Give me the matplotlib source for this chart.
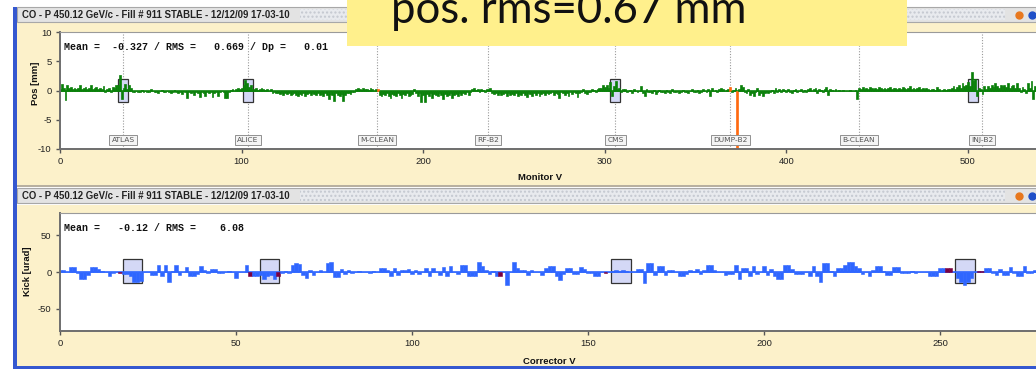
import numpy as np
import matplotlib
matplotlib.use("Agg")
import matplotlib.pyplot as plt
from matplotlib.patches import Rectangle

plt.rcParams["axes.unicode_minus"] = False

W, H = 1036, 370

# vertical closed orbit per monitor [mm]
pos_mm = [
    0.3, 1.1, 0.5, -1.6, 0.9, 0.4, 0.6, 0.3, 0.5, 0.2,
    0.4, 1.0, 0.3, 0.5, 0.6, 0.2, 0.4, 0.9, 0.3, 0.5,
    0.6, 0.2, 0.4, 0.3, 0.7, -0.2, 0.3, 0.5, -0.3, 0.6,
    0.4, 0.9, 1.0, 2.7, -1.5, 0.5, 1.1, 0.3, 0.9, 0.4,
    -0.2, -0.3, -0.1, -0.2, -0.3, 0.1, -0.2, -0.1, -0.3, -0.2,
    0.2, -0.1, -0.3, -0.2, -0.4, -0.1, 0.1, -0.3, -0.2, -0.1,
    -0.3, -0.5, -0.2, 0.1, -0.3, -0.4, -0.2, -0.6, -0.1, -0.3,
    -1.2, -0.3, -0.4, -0.2, -0.8, -0.3, -0.5, -1.1, -0.2, -0.4,
    -1.0, -0.3, -0.5, -0.2, -1.1, -0.4, -0.3, -0.9, -0.2, -0.1,
    -0.3, -1.3, -1.2, -0.2, 0.1, 0.2, -0.1, 0.3, 0.5, 0.2,
    0.4, 0.9, 1.8, 1.2, 0.6, 1.0, 0.3, 0.2, 0.4, 0.1,
    0.3, 0.5, 0.2, 0.1, 0.3, -0.1, 0.2, -0.4, -0.3, -0.5,
    -0.4, -0.6, -0.5, -0.7, -0.4, -0.6, -0.5, -0.8, -0.6, -0.5,
    -0.7, -1.0, -0.6, -0.8, -0.5, -0.9, -0.6, -0.4, -0.8, -0.5,
    -0.6, -0.7, -0.4, -0.8, -0.6, -1.0, -0.5, -0.7, -1.5, -0.6,
    -0.8, -1.8, -0.5, -0.7, -0.9, -0.6, -1.8, -0.7, -0.5, -0.4,
    -0.6, -0.3, -0.2, 0.2, 0.4, 0.3, 0.1, 0.5, 0.2, 0.3,
    0.1, 0.4, 0.2, 0.0, 0.3, 0.2, -0.7, -1.0, -0.6, -0.8,
    -0.5, -0.9, -1.2, -0.6, -0.8, -1.0, -0.5, -0.7, -1.3, -0.6,
    -0.8, -0.5, -1.0, -0.7, -0.6, 0.3, -0.4, -0.9, -0.5, -2.0,
    -0.7, -2.0, -0.6, -0.9, -0.5, -1.3, -0.6, -0.8, -1.0, -0.5,
    -0.7, -1.5, -0.6, -0.9, -0.8, -0.5, -1.2, -0.7, -0.6, -0.9,
    -0.5, -0.8, -0.4, -0.6, -0.3, -0.7, -0.2, 0.2, 0.4, 0.1,
    0.3, -0.2, 0.2, 0.1, -0.3, 0.3, 0.2, 0.4, -0.5, -0.6,
    -0.4, -0.7, -0.5, -0.8, -0.6, -0.4, -0.9, -0.5, -0.7, -0.6,
    -0.8, -0.5, -1.0, -0.6, -0.7, -0.4, -0.8, -1.1, -0.5, -0.6,
    -0.9, -0.5, -0.7, -0.4, -1.0, -0.6, -0.5, -0.8, -0.4, -0.6,
    -0.5, -0.3, -0.8, -0.4, -0.6, -1.2, -0.3, -0.5, -0.7, -0.4,
    -0.9, -0.3, -0.6, -0.2, -0.5, -1.1, -0.4, -0.3, 0.2, -0.4,
    -0.6, -0.2, -0.3, 0.2, 0.1, -0.3, 0.3, 0.5, 0.4, 0.9,
    0.6, 1.0, 0.4, 1.5, -1.0, 0.8, 1.6, 0.3, 0.5, -0.2,
    0.3, 0.2, -0.3, -0.1, 0.1, -0.4, 0.2, 0.0, -0.3, -0.1,
    0.8, -0.5, -0.9, 0.2, -0.3, -0.2, -0.4, 0.1, -0.6, -0.2,
    0.1, -0.3, -0.2, -0.5, 0.1, -0.3, -0.4, 0.2, -0.2, -0.3,
    -0.1, -0.4, -0.2, 0.1, -0.3, -0.2, -0.5, -0.1, 0.2, -0.3,
    -0.2, 0.1, -0.4, -0.3, 0.2, -0.1, -0.2, 0.3, -0.9, 0.4,
    0.0, 0.1, -0.2, 0.2, 0.4, 0.2, 0.0, 0.1, 0.3, 0.6,
    -0.2, 0.1, 0.4, -10.0, 0.3, 0.9, 0.6, -0.3, -0.5, 0.2,
    -0.7, -0.4, -0.9, -0.3, 0.4, -0.8, -0.5, -1.0, -0.4, -0.3,
    -0.5, -0.2, 0.1, -0.4, 0.5, -0.3, 0.2, -0.2, 0.3, 0.1,
    -0.3, 0.2, -0.2, -0.4, 0.1, 0.3, -0.3, -0.1, 0.2, -0.2,
    0.1, -0.3, 0.2, 0.4, -0.1, 0.3, 0.5, -0.4, 0.2, 0.1,
    -0.2, 0.3, 0.6, -0.8, 0.3, 0.1, 0.0, 0.2, 0.0, 0.1,
    0.0, 0.1, 0.0, 0.0, -0.1, 0.1, 0.0, 0.0, 0.1, -1.4,
    0.5, 0.3, 0.6, 0.2, 0.5, 0.3, 0.6, 0.4, 0.2, 0.5,
    0.3, 0.6, 0.4, 0.3, 0.5, 0.2, 0.4, 0.6, 0.3, 0.5,
    0.4, 0.3, 0.5, 0.2, 0.6, 0.4, 0.3, 0.5, 0.7, 0.3,
    0.5, 0.2, 0.4, 0.6, 0.3, 0.5, 0.2, 0.4, 0.3, 0.1,
    0.2, 0.3, 0.1, 0.6, 0.2, 0.0, 0.1, 0.2, 0.1, 0.3,
    0.2, 0.5, 0.8, 0.3, 0.6, 0.9, 0.4, 1.2, 0.7, 1.0,
    1.4, 0.8, 3.2, 1.6, 2.0, -1.0, 0.4, 0.2, -0.6, 0.8,
    0.3, 0.7, 0.5, 1.0, 0.6, 1.2, 0.8, 0.5, 1.0, 0.7,
    0.9, 0.6, 1.3, 0.4, 0.8, 1.0, 0.5, 1.2, 0.4, -0.3,
    0.6, 0.3, -0.4, 1.2, 0.5, 1.6, -1.5, 0.8, 0.6, 0.4,
]
orange_monitors = [175, 369, 373]

monitor_names = ["ATLAS", "ALICE", "M-CLEAN", "RF-B2", "CMS", "DUMP-B2", "B-CLEAN", "INJ-B2"]
monitor_marks = [34.7, 103.5, 174.6, 235.7, 305.8, 369.0, 440.0, 507.7]
pos_box_centres = [34.7, 103.5, 305.8, 502.8]

# vertical corrector kicks [urad]
kick_urad = [
    3, 3, 0, 7, 7, -1, -9, -9, -4, 7,
    7, 4, 2, 0, -5, -2, 0, -1, -3, -3,
    -5, -13, -14, -12, 0, 0, -4, -4, 9, -5,
    9, -13, 2, 9, -4, 0, 7, -6, -6, -3,
    8, 3, -2, 4, 4, -2, -2, 0, 2, 0,
    -8, 0, 0, 9, -6, -6, -6, -4, -10, -6,
    -4, -10, -6, -2, 2, -2, 10, 12, 11, -4,
    -8, 3, -4, 0, 3, 0, 12, 13, -7, -7,
    4, -3, 3, -2, 0, 2, 0, 0, -1, 2,
    0, 6, 6, 3, -5, 6, -4, 3, 3, 4,
    -3, 3, -3, 0, 5, -5, 6, 0, -4, 7,
    -5, 8, 0, -3, 10, 10, -6, -6, -6, 13,
    8, 3, -3, 2, -6, -5, 0, -17, 0, 14,
    6, 3, 3, -4, 3, 0, 0, -4, 5, 8,
    8, -6, -11, -3, 6, 6, -3, -3, 7, 4,
    -2, -2, -5, -5, 0, -1, 0, 2, 3, 2,
    3, 2, 0, 0, 4, 4, -15, 12, 12, -4,
    8, 8, -4, 3, 3, 0, -5, -5, -3, 3,
    2, 4, -3, 3, 10, 10, 3, 0, 0, -4,
    -3, -3, 9, -10, 5, 5, -5, 8, -3, 0,
    8, -4, 4, -5, -9, -9, 9, 9, 4, -3,
    -3, -3, 0, -5, 8, -6, -13, 12, 12, 2,
    -5, 6, 6, 10, 14, 14, 8, 5, -3, 0,
    -6, 3, 8, 8, 2, -4, -4, 7, 7, -2,
    -2, -2, 1, -2, 0, 0, 0, -6, -6, -6,
    5, 5, 6, 6, 0, -8, -14, -17, -14, -8,
    0, 2, 2, 5, 5, -2, -4, 4, -4, -4,
    7, -1, -6, -6, 8, -2, -2, 3, 0, 0,
]
purple_correctors = [17, 54, 62, 125, 155, 252, 253, 261, 262]
kick_box_centres = [20.6, 59.5, 159.3, 257.1]

title = "CO - P 450.12 GeV/c - Fill # 911 STABLE - 12/12/09 17-03-10"

GREEN = "#0a800a"
ORANGE = "#ff6a10"
BLUE = "#2f66ff"
PURPLE = "#7a0040"
BEIGE = "#fcf1ca"
GREY_BAR = "#e3e3e3"


def px_axes(fig, x0, y0, x1, y1, **kw):
    return fig.add_axes([x0 / W, 1 - y1 / H, (x1 - x0) / W, (y1 - y0) / H], **kw)


def style_axes(ax):
    ax.set_facecolor("white")
    for s in ["left", "bottom"]:
        ax.spines[s].set_color("#6e6e6e")
        ax.spines[s].set_linewidth(1.4)
    ax.spines["top"].set_color("#9a9a9a")
    ax.spines["top"].set_linewidth(0.8)
    ax.spines["right"].set_visible(False)
    ax.tick_params(direction="out", length=3, width=1, color="#555555",
                   labelsize=6.8, labelcolor="#222222", pad=3)
    for lab in ax.get_xticklabels() + ax.get_yticklabels():
        lab.set_fontfamily("Liberation Sans")


fig = plt.figure(figsize=(W / 100, H / 100), dpi=100)
fig.patch.set_facecolor("white")

# window chrome drawn in pixel coordinates
bg = fig.add_axes([0, 0, 1, 1], zorder=-5)
bg.set_xlim(0, W)
bg.set_ylim(H, 0)
bg.axis("off")
for y0, y1 in [(22, 186), (205, 367)]:
    bg.add_patch(Rectangle((17, y0), W - 17, y1 - y0, facecolor=BEIGE, edgecolor="none"))
for y0 in [7, 188]:
    bg.add_patch(Rectangle((17, y0), W - 17, 15, facecolor=GREY_BAR, edgecolor="#a8a8a8", lw=0.8))
    bg.add_patch(Rectangle((300, y0 + 2), 705, 11, facecolor="#e8eaee", edgecolor="#c4c8d0",
                           hatch="....", lw=0))
    bg.text(22, y0 + 8, title, fontsize=6.9, family="Liberation Sans", color="#222222",
            va="center", ha="left", fontweight="bold")
    bg.plot([1019], [y0 + 8], "o", ms=5, color="#e8781e")
    bg.plot([1032], [y0 + 8], "o", ms=5, color="#2050c8")
bg.add_patch(Rectangle((17, 185), W - 17, 2, facecolor="#b8b0a0", edgecolor="none"))
bg.add_patch(Rectangle((13, 7), 4, 362, facecolor="#3558d0", edgecolor="none"))
bg.add_patch(Rectangle((13, 366), W - 13, 3, facecolor="#3558d0", edgecolor="none"))

# ---- top panel: orbit
ax1 = px_axes(fig, 60, 32, 60 + 545 * 1.816, 149)
x_mon = np.arange(len(pos_mm))
mon_colors = [ORANGE if i in orange_monitors else GREEN for i in x_mon]
for c in pos_box_centres:
    ax1.add_patch(Rectangle((c - 2.8, -2), 5.6, 4, facecolor="#d4d8f6",
                            edgecolor="#333333", lw=0.9, zorder=1))
for m, name in zip(monitor_marks, monitor_names):
    ax1.axvline(m, color="#9a9a9a", lw=0.8, ls=(0, (1, 1.5)), zorder=0.5)
    ax1.text(m, -8.5, name, fontsize=5.4, family="DejaVu Sans", color="#555555",
             ha="center", va="center", zorder=4,
             bbox=dict(boxstyle="square,pad=0.3", fc="#f4f4f4", ec="#909090", lw=0.7))
ax1.bar(x_mon, pos_mm, width=1.0, color=mon_colors, edgecolor=mon_colors,
        linewidth=0.5, zorder=2)
ax1.axhline(0, color=GREEN, lw=1.2, zorder=1.5)
ax1.set_xlim(0, 545)
ax1.set_ylim(-10, 10)
ax1.set_xticks([0, 100, 200, 300, 400, 500])
ax1.set_yticks([-10, -5, 0, 5, 10])
style_axes(ax1)
ax1.text(0.004, 0.868, "Mean =  -0.327 / RMS =   0.669 / Dp =   0.01",
         transform=ax1.transAxes, fontsize=7.2, family="Liberation Mono",
         fontweight="bold", color="#111111", va="center")

# ---- bottom panel: kicks
ax2 = px_axes(fig, 60, 213, 60 + 280 * 3.52, 331)
x_cor = np.arange(len(kick_urad))
cor_colors = [PURPLE if i in purple_correctors else BLUE for i in x_cor]
for c in kick_box_centres:
    ax2.add_patch(Rectangle((c - 2.8, -15), 5.6, 32, facecolor="#d4d8f6",
                            edgecolor="#333333", lw=0.9, zorder=1))
ax2.bar(x_cor, kick_urad, width=1.0, color=cor_colors, edgecolor=cor_colors,
        linewidth=0.4, zorder=2)
ax2.axhline(0, color=BLUE, lw=1.2, zorder=1.5)
ax2.set_xlim(0, 280)
ax2.set_ylim(-80, 80)
ax2.set_xticks([0, 50, 100, 150, 200, 250])
ax2.set_yticks([-50, 0, 50])
style_axes(ax2)
ax2.text(0.004, 0.87, "Mean =   -0.12 / RMS =    6.08",
         transform=ax2.transAxes, fontsize=7.2, family="Liberation Mono",
         fontweight="bold", color="#111111", va="center")

# axis titles
bg.text(540, 178, "Monitor V", fontsize=6.8, family="Liberation Sans", fontweight="bold",
        ha="center", va="center", color="#111111")
bg.text(549, 361, "Corrector V", fontsize=6.8, family="Liberation Sans", fontweight="bold",
        ha="center", va="center", color="#111111")
bg.text(36, 83, "Pos [mm]", fontsize=6.8, family="Liberation Sans", fontweight="bold",
        ha="center", va="center", rotation=90, color="#111111")
bg.text(28, 271, "Kick [urad]", fontsize=6.8, family="Liberation Sans", fontweight="bold",
        ha="center", va="center", rotation=90, color="#111111")

# yellow note pasted on top
ov = fig.add_axes([0, 0, 1, 1], zorder=10)
ov.set_xlim(0, W)
ov.set_ylim(H, 0)
ov.axis("off")
ov.patch.set_alpha(0)
ov.add_patch(Rectangle((347, 0), 560, 46, facecolor="#fff08c", edgecolor="none"))
ov.text(391, 23, "pos. rms=0.67 mm", fontsize=31.5, family="Lato", color="#111111",
        ha="left", va="baseline")

fig.savefig("out.png", dpi=100)
